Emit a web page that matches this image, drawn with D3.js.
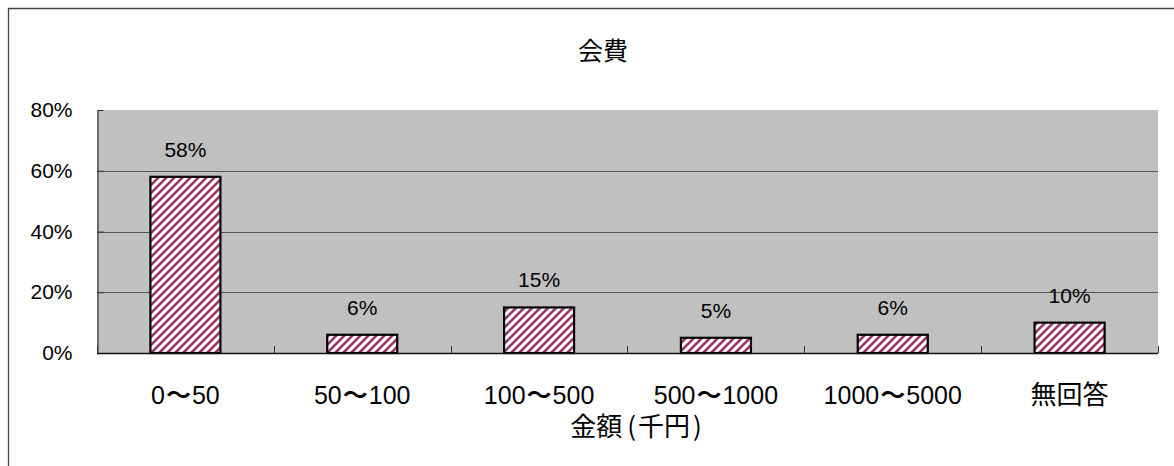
<!DOCTYPE html>
<html>
<head>
<meta charset="utf-8">
<script src="https://cdn.jsdelivr.net/npm/d3@7"></script>
<style>
  html, body { margin: 0; padding: 0; background: #fff; }
  svg { display: block; }
  text { font-family: "Liberation Sans", "Noto Sans CJK JP", sans-serif; fill: #000; }
  .jp { font-family: "Noto Sans CJK JP", sans-serif; }
</style>
</head>
<body>
<svg id="chart" width="1174" height="466"></svg>
<script>
// Membership fee distribution (share of respondents per amount band)
const title = "会費";
const axisTitle = "金額(千円)";
const categories = ["0〜50", "50〜100", "100〜500", "500〜1000", "1000〜5000", "無回答"];
const values = [58, 6, 15, 5, 6, 10];
const yTicks = [0, 20, 40, 60, 80];

const W = 1174, H = 466;
const plot = { left: 97, right: 1158, top: 110, bottom: 353 };

const svg = d3.select("#chart");

// diagonal hatch fill used by the bars
const defs = svg.append("defs");
const pat = defs.append("pattern")
  .attr("id", "hatch")
  .attr("patternUnits", "userSpaceOnUse")
  .attr("width", 8).attr("height", 8);
pat.append("rect").attr("width", 8).attr("height", 8).attr("fill", "#fff");
pat.append("path")
  .attr("d", "M-2,2 L2,-2 M0,8 L8,0 M6,10 L10,6")
  .attr("stroke", "#993366")
  .attr("stroke-width", 2.6);

// outer chart frame (extends past the visible window on right/bottom)
svg.append("path")
  .attr("d", `M8.5,${H + 5} L8.5,8.5 L${W + 5},8.5`)
  .attr("fill", "none")
  .attr("stroke", "#444")
  .attr("stroke-width", 1.3);

const x = d3.scaleBand()
  .domain(categories)
  .range([plot.left, plot.right])
  .paddingInner(0.604)
  .paddingOuter(0.302);

const y = d3.scaleLinear()
  .domain([0, 80])
  .range([plot.bottom, plot.top]);

// plot background
svg.append("rect")
  .attr("x", plot.left).attr("y", plot.top)
  .attr("width", plot.right - plot.left)
  .attr("height", plot.bottom - plot.top)
  .attr("fill", "#c0c0c0");

// horizontal gridlines
svg.append("g")
  .selectAll("line")
  .data(yTicks.filter(t => t > 0 && t < 80))
  .join("line")
  .attr("x1", plot.left).attr("x2", plot.right)
  .attr("y1", d => Math.round(y(d)) + 0.5)
  .attr("y2", d => Math.round(y(d)) + 0.5)
  .attr("stroke", "#555")
  .attr("stroke-width", 1);

// y axis: inward ticks, percent labels
const yAxis = d3.axisLeft(y)
  .tickValues(yTicks)
  .tickSizeInner(-6)
  .tickSizeOuter(0)
  .tickPadding(25)
  .tickFormat(d => d + "%");
const gy = svg.append("g")
  .attr("transform", `translate(${plot.left + 0.5},0)`)
  .call(yAxis);
gy.select(".domain").attr("stroke", "#333").attr("stroke-width", 1.2);
gy.selectAll(".tick line").attr("stroke", "#333");
gy.selectAll(".tick text")
  .attr("font-size", 21)
  .attr("font-family", "'Liberation Sans', sans-serif")
  .attr("fill", "#000");

// bars
svg.append("g")
  .selectAll("rect")
  .data(values)
  .join("rect")
  .attr("x", (d, i) => x(categories[i]))
  .attr("y", d => y(d))
  .attr("width", x.bandwidth())
  .attr("height", d => y(0) - y(d))
  .attr("fill", "url(#hatch)")
  .attr("stroke", "#000")
  .attr("stroke-width", 2.2);

// value labels above bars
svg.append("g")
  .selectAll("text")
  .data(values)
  .join("text")
  .attr("x", (d, i) => x(categories[i]) + x.bandwidth() / 2)
  .attr("y", d => y(d) - 20)
  .attr("text-anchor", "middle")
  .attr("font-size", 21)
  .text(d => d + "%");

// x axis: category boundary ticks pointing up
const gx = svg.append("g");
gx.append("line")
  .attr("x1", plot.left).attr("x2", plot.right)
  .attr("y1", plot.bottom + 0.5).attr("y2", plot.bottom + 0.5)
  .attr("stroke", "#111")
  .attr("stroke-width", 1.4);
const boundaries = categories.map(c => x(c) - x.step() * x.paddingInner() / 2)
  .concat([plot.right]);
gx.selectAll("line.tk")
  .data(boundaries)
  .join("line")
  .attr("class", "tk")
  .attr("x1", d => Math.round(d) + 0.5).attr("x2", d => Math.round(d) + 0.5)
  .attr("y1", plot.bottom).attr("y2", plot.bottom - 7)
  .attr("stroke", "#333");

// category labels; the wave dash is set heavier with a touch of room
const catText = svg.append("g")
  .selectAll("text")
  .data(categories)
  .join("text")
  .attr("x", d => x(d) + x.bandwidth() / 2)
  .attr("y", 404)
  .attr("text-anchor", "middle")
  .attr("font-size", 25);
catText.each(function (d) {
  const t = d3.select(this);
  const parts = d.split("〜");
  if (parts.length === 2) {
    t.append("tspan").text(parts[0]);
    t.append("tspan").attr("class", "jp").attr("font-weight", 700)
      .attr("dx", 1).text("〜");
    t.append("tspan").attr("dx", 1).text(parts[1]);
  } else {
    t.attr("class", "jp").attr("font-size", 26).text(d);
  }
});

// axis title, brackets given a little breathing room
const at = svg.append("text")
  .attr("class", "jp")
  .attr("x", 636)
  .attr("y", 436)
  .attr("text-anchor", "middle")
  .attr("font-size", 26);
const m = axisTitle.match(/^(.*)\((.*)\)$/);
at.append("tspan").text(m[1]);
at.append("tspan").attr("dx", 5).text("(");
at.append("tspan").attr("dx", 2).text(m[2]);
at.append("tspan").attr("dx", 3).text(")");

// chart title
svg.append("text")
  .attr("class", "jp")
  .attr("x", 603)
  .attr("y", 60)
  .attr("text-anchor", "middle")
  .attr("font-size", 25)
  .text(title);
</script>
</body>
</html>
